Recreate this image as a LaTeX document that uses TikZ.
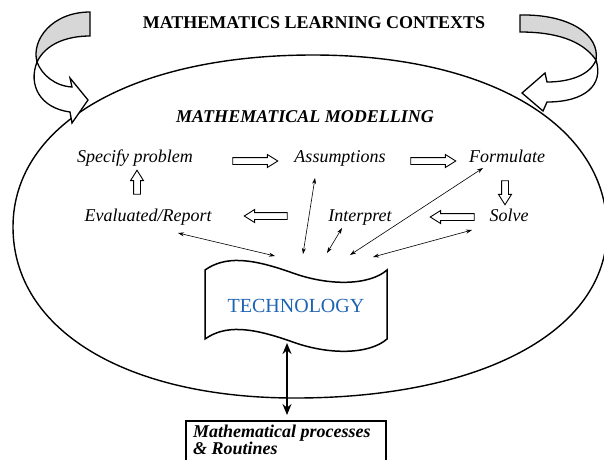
\documentclass[tikz,border=0pt]{standalone}
\usepackage{fontspec}
\setmainfont{Liberation Serif}
\usetikzlibrary{arrows.meta,shapes.arrows}
\definecolor{techblue}{RGB}{30,100,180}
\definecolor{bandgray}{RGB}{215,215,215}
\begin{document}
\begin{tikzpicture}[x=1pt,y=-1pt,
  lbl/.style={font=\fontsize{18}{20}\selectfont\itshape, anchor=base, inner sep=0pt},
  ttl/.style={font=\fontsize{18}{20}\selectfont\bfseries, anchor=base, inner sep=0pt},
  ttlbi/.style={font=\fontsize{18}{20}\selectfont\bfseries\itshape, anchor=base, inner sep=0pt},
  blockarrow/.style={single arrow, draw, line width=0.9pt, inner sep=3pt, outer sep=0pt,
     single arrow head extend=3pt, single arrow tip angle=64},
  smalldbl/.style={line width=0.6pt, {Stealth[length=6pt,width=4pt]}-{Stealth[length=6pt,width=4pt]}},
  bigdbl/.style={line width=1.6pt, {Stealth[length=11pt,width=9pt]}-{Stealth[length=11pt,width=9pt]}},
  curvedarrow/.style={line width=1.3pt, line join=miter},
]
\useasboundingbox (0,0) rectangle (604,459);

% big ellipse
\draw[line width=1.4pt] (313,55) .. controls (133,55) and (13,124) .. (13,227)
  .. controls (13,330) and (126,398) .. (295,398)
  .. controls (482,398) and (607,331) .. (607,230)
  .. controls (607,125) and (489,55) .. (313,55) -- cycle;

% left curved arrow
\filldraw[curvedarrow, fill=bandgray] (90,12) -- (90,36) .. controls (65,36) and (45,45) .. (37,62)
  .. controls (31,40) and (52,12) .. (90,12) -- cycle;
\filldraw[curvedarrow, fill=white] (37,62) .. controls (42,75) and (55,86) .. (72,87)
  -- (70,78) -- (88,100) -- (72,123) -- (70,112)
  .. controls (40,108) and (28,85) .. (37,62) -- cycle;

% right curved arrow
\filldraw[curvedarrow, fill=bandgray] (520,15) -- (520,32) .. controls (555,32) and (582,40) .. (596,60)
  .. controls (600,35) and (570,14) .. (520,15) -- cycle;
\filldraw[curvedarrow, fill=white] (596,60) .. controls (604,85) and (585,102) .. (547,102)
  -- (543,111) -- (522,93) -- (545,73) -- (547,82)
  .. controls (570,82) and (590,75) .. (596,60) -- cycle;

% titles
\node[ttl] (title) at (314,28) {MATHEMATICS LEARNING CONTEXTS};
\node[ttlbi] (mm) at (305,122) {MATHEMATICAL MODELLING};

% labels
\node[lbl] (spec) at (135,162) {Specify problem};
\node[lbl] (assum) at (340,162) {Assumptions};
\node[lbl] (form) at (507,162) {Formulate};
\node[lbl] (eval) at (148,221) {Evaluated/Report};
\node[lbl] (interp) at (360,221) {Interpret};
\node[lbl] (solve) at (509,221) {Solve};

% block arrows
\node[blockarrow, minimum height=45pt, shape border rotate=0] (b1) at (252.5,161) {};
\node[blockarrow, minimum height=45pt, shape border rotate=0] (b2) at (430.5,161) {};
\node[blockarrow, minimum height=24pt, shape border rotate=270] (b3) at (505,190) {};
\node[blockarrow, minimum height=44pt, shape border rotate=180] (b4) at (455,217) {};
\node[blockarrow, minimum height=43pt, shape border rotate=180] (b5) at (268.5,216) {};
\node[blockarrow, minimum height=24pt, shape border rotate=90] (b6) at (137,185) {};

% technology banner
\draw[line width=1.5pt, fill=white] (205,270) .. controls (225,256) and (250,258) .. (290,272)
  .. controls (330,287) and (370,285) .. (387,270) -- (387,339)
  .. controls (370,354) and (330,356) .. (290,341)
  .. controls (250,327) and (225,325) .. (205,339) -- cycle;
\node[anchor=base, inner sep=0pt, font=\fontsize{20}{22}\selectfont, text=techblue] (tech) at (296,312) {TECHNOLOGY};

% thin connectors
\coordinate (evE) at (178,233); \coordinate (evT) at (275,256);
\coordinate (asE) at (315,178); \coordinate (asT) at (303,254);
\coordinate (inE) at (342,228); \coordinate (inT) at (327,253);
\coordinate (foE) at (483,168); \coordinate (foT) at (350,255);
\coordinate (soE) at (472,230); \coordinate (soT) at (373,257);
\draw[smalldbl] (evE) -- (evT);
\draw[smalldbl] (asE) -- (asT);
\draw[smalldbl] (inE) -- (inT);
\draw[smalldbl] (foE) -- (foT);
\draw[smalldbl] (soE) -- (soT);

% processes box
\node[draw, line width=1.5pt, anchor=north west, minimum width=200pt, minimum height=60pt, inner sep=0pt] (proc) at (185,420) {};
\node[font=\fontsize{18}{16}\selectfont\bfseries\itshape, align=left, anchor=north west, inner sep=0pt] (proctext) at (193,424.5) {Mathematical processes\\\& Routines};

% thick connector
\coordinate (techB) at (287,343);
\coordinate (procT) at (287,415);
\draw[bigdbl] (techB) -- (procT);
\end{tikzpicture}
\end{document}
